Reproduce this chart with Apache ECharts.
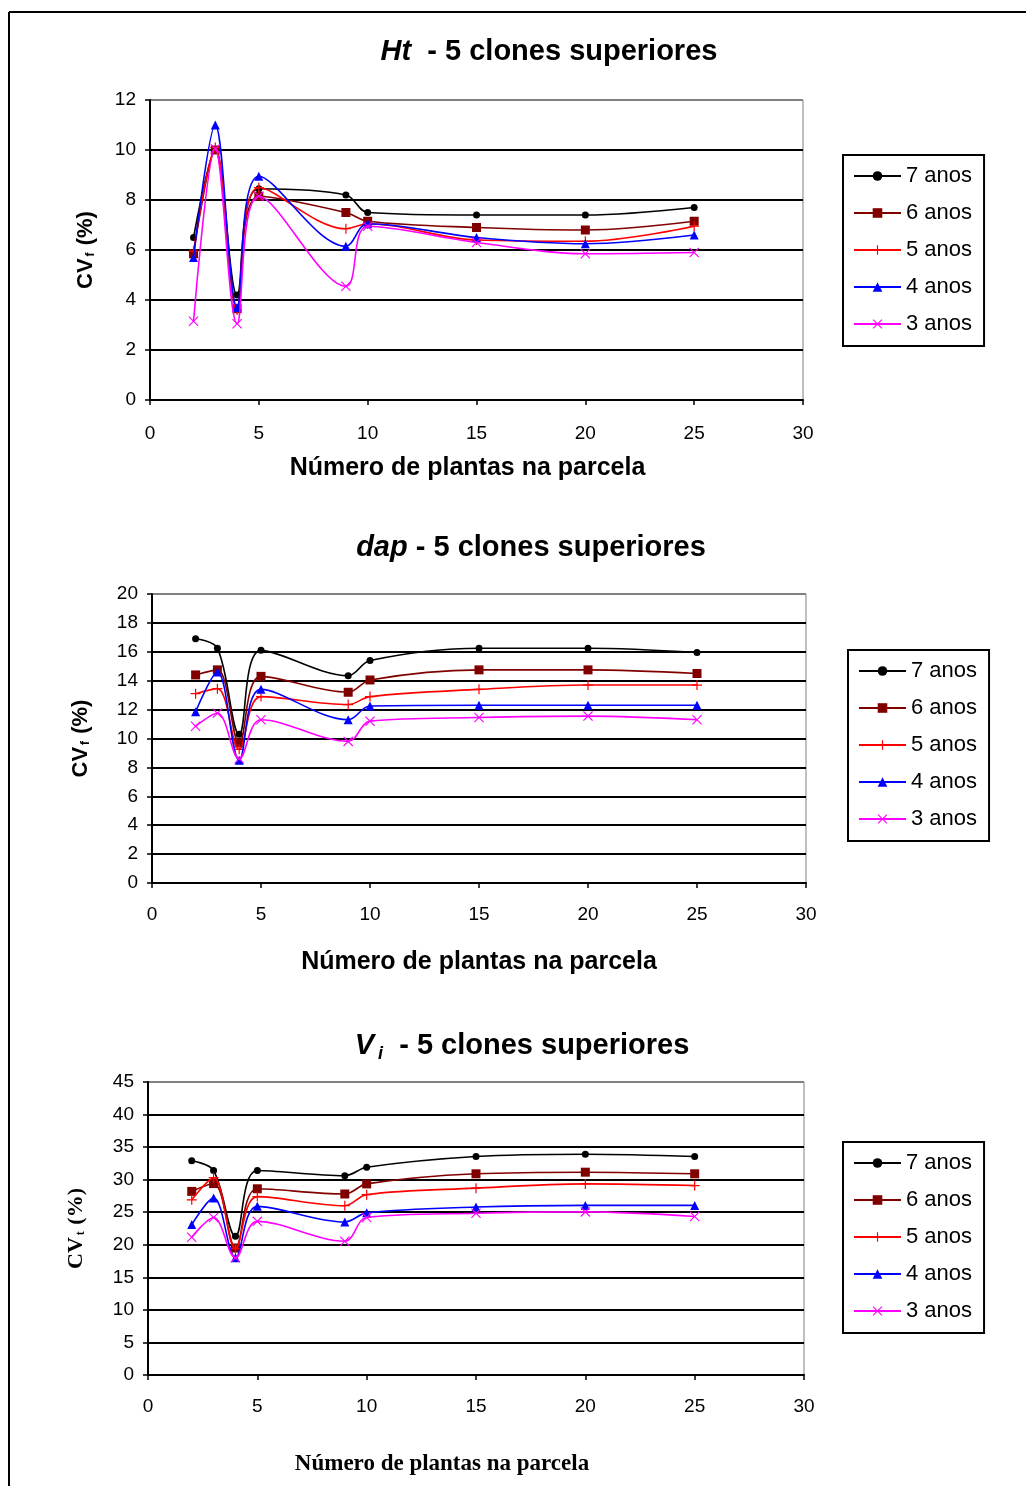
<!DOCTYPE html>
<html><head><meta charset="utf-8">
<script src="https://cdn.jsdelivr.net/npm/echarts@6/dist/echarts.min.js"></script>
<style>html,body{margin:0;padding:0;background:#fff}#c{width:1026px;height:1486px}</style>
</head><body><div id="c"></div>
<script>
// ---- data ----
const xs = [2, 3, 4, 5, 9, 10, 15, 20, 25];
const seriesNames = ['7 anos', '6 anos', '5 anos', '4 anos', '3 anos'];

const ht7 = [6.5, 10.0, 4.2, 8.45, 8.2, 7.5, 7.4, 7.4, 7.7];
const ht6 = [5.85, 10.0, 3.65, 8.15, 7.5, 7.15, 6.9, 6.8, 7.15];
const ht5 = [5.95, 10.1, 3.6, 8.5, 6.85, 7.05, 6.4, 6.35, 6.95];
const ht4 = [5.7, 11.0, 3.7, 8.95, 6.15, 7.05, 6.5, 6.25, 6.6];
const ht3 = [3.15, 10.05, 3.05, 8.15, 4.55, 6.95, 6.3, 5.85, 5.9];

const dap7 = [16.9, 16.25, 10.3, 16.1, 14.35, 15.4, 16.25, 16.25, 15.95];
const dap6 = [14.4, 14.75, 9.7, 14.3, 13.2, 14.05, 14.75, 14.75, 14.5];
const dap5 = [13.1, 13.45, 9.25, 12.9, 12.35, 12.9, 13.4, 13.7, 13.7];
const dap4 = [11.85, 14.6, 8.5, 13.4, 11.3, 12.25, 12.3, 12.3, 12.3];
const dap3 = [10.85, 11.75, 8.6, 11.3, 9.8, 11.2, 11.45, 11.55, 11.3];

const vi7 = [32.9, 31.4, 21.3, 31.4, 30.6, 31.9, 33.55, 33.9, 33.55];
const vi6 = [28.2, 29.4, 19.5, 28.6, 27.8, 29.35, 30.9, 31.15, 30.9];
const vi5 = [26.9, 30.3, 19.4, 27.4, 26.0, 27.7, 28.7, 29.35, 29.1];
const vi4 = [23.1, 27.2, 18.0, 25.9, 23.5, 24.9, 25.8, 26.05, 26.05];
const vi3 = [21.15, 24.2, 18.0, 23.6, 20.55, 24.2, 24.85, 25.05, 24.35];

const xTicks = [0, 5, 10, 15, 20, 25, 30];

// ---- style ----
const colors = ['#000000', '#800000', '#ff0000', '#0000ff', '#ff00ff'];
const plusPath = 'path://M0,4.4 L10,4.4 L10,5.6 L0,5.6 Z M4.4,0 L5.6,0 L5.6,10 L4.4,10 Z';
const xPath = 'path://M0.8,0 L5,4.2 L9.2,0 L10,0.8 L5.8,5 L10,9.2 L9.2,10 L5,5.8 L0.8,10 L0,9.2 L4.2,5 L0,0.8 Z';
const symbols = ['circle', 'rect', plusPath, 'triangle', xPath];
const symSizes = [7, 9, 10, 9, 10];
const sans = 'Liberation Sans, Arial, sans-serif';
const serif = 'Liberation Serif, Times New Roman, serif';

const datasets = [
  [ht7, ht6, ht5, ht4, ht3],
  [dap7, dap6, dap5, dap4, dap3],
  [vi7, vi6, vi5, vi4, vi3]
];

const grids = [
  {left: 150, top: 100, width: 653, height: 300},
  {left: 152, top: 594, width: 654, height: 289},
  {left: 148, top: 1082, width: 656, height: 293}
];
const yCfg = [
  {max: 12, interval: 2},
  {max: 20, interval: 2},
  {max: 45, interval: 5}
];

function splitColors(n) {
  const arr = [];
  for (let i = 0; i <= n; i++) arr.push(i === n ? '#808080' : '#000000');
  return arr;
}

const xAxes = [], yAxes = [], series = [], legends = [];
const xLabelMargin = [24, 22, 22];
const xNameCfg = [
  {gap: 56, font: sans, size: 25, pad: [0, 18, 0, 0]},
  {gap: 67, font: sans, size: 25, pad: [0, 0, 0, 0]},
  {gap: 78, font: serif, size: 23, pad: [0, 68, 0, 0]}
];
const yNameCfg = [
  {gap: 53, font: sans, sub: 'f', text: 'CV'},
  {gap: 60, font: sans, sub: 'f', text: 'CV'},
  {gap: 61, font: serif, sub: 't', text: 'CV'}
];
const legendPos = [
  {left: 843, top: 155},
  {left: 848, top: 650},
  {left: 843, top: 1142}
];

for (let g = 0; g < 3; g++) {
  xAxes.push({
    gridIndex: g, type: 'value', min: 0, max: 30, interval: 5,
    axisLine: {show: true, onZero: false, lineStyle: {color: '#000', width: 2}},
    axisTick: {show: true, length: 5, lineStyle: {color: '#000', width: 1.5}},
    splitLine: {show: false},
    axisLabel: {color: '#000', fontFamily: sans, fontSize: 19, margin: xLabelMargin[g],
      formatter: v => xTicks.includes(v) ? String(v) : ''},
    name: 'Número de plantas na parcela', nameLocation: 'middle', nameGap: xNameCfg[g].gap,
    nameTextStyle: {color: '#000', fontFamily: xNameCfg[g].font, fontWeight: 'bold',
      fontSize: xNameCfg[g].size, padding: xNameCfg[g].pad}
  });
  const nLines = yCfg[g].max / yCfg[g].interval;
  const yn = yNameCfg[g];
  yAxes.push({
    gridIndex: g, type: 'value', min: 0, max: yCfg[g].max, interval: yCfg[g].interval,
    axisLine: {show: true, lineStyle: {color: '#000', width: 2}},
    axisTick: {show: true, length: 5, lineStyle: {color: '#000', width: 1.5}},
    splitLine: {show: true, lineStyle: {color: splitColors(nLines), width: 2}},
    axisLabel: {color: '#000', fontFamily: sans, fontSize: 19, margin: 14},
    name: '{a|' + yn.text + '}{s|' + yn.sub + '}{a| (%)}',
    nameLocation: 'middle', nameGap: yn.gap, nameRotate: 90,
    nameTextStyle: {
      rich: {
        a: {fontFamily: yn.font, fontWeight: 'bold', fontSize: 22, color: '#000'},
        s: {fontFamily: yn.font, fontWeight: 'bold', fontSize: 12, color: '#000', verticalAlign: 'bottom', padding: [9, 1, 0, 2]}
      }
    }
  });
  const lp = legendPos[g];
  legends.push({
    orient: 'vertical', left: lp.left, top: lp.top,
    padding: [8, 12, 9, 10], itemGap: 11, itemWidth: 47, itemHeight: 12,
    borderColor: '#000', borderWidth: 2, backgroundColor: '#fff',
    textStyle: {color: '#000', fontFamily: sans, fontSize: 22, lineHeight: 26},
    selectedMode: false,
    data: seriesNames.map((n, i) => ({name: g + '_' + i})),
    formatter: name => seriesNames[+name.split('_')[1]]
  });
  for (let i = 0; i < 5; i++) {
    const vals = datasets[g][i];
    series.push({
      name: g + '_' + i, type: 'line', xAxisIndex: g, yAxisIndex: g,
      data: xs.map((x, k) => [x, vals[k]]),
      smooth: 0.35, symbol: symbols[i], symbolSize: symSizes[i], showSymbol: true,
      lineStyle: {color: colors[i], width: 1.6},
      itemStyle: {color: colors[i], borderWidth: 0},
      animation: false, z: 3 + i
    });
  }
}

const titleStyleRich = {
  i: {fontFamily: sans, fontStyle: 'italic', fontWeight: 'bold', fontSize: 29, color: '#000'},
  n: {fontFamily: sans, fontWeight: 'bold', fontSize: 29, color: '#000'},
  sub: {fontFamily: sans, fontStyle: 'italic', fontWeight: 'bold', fontSize: 18, color: '#000', verticalAlign: 'bottom', padding: [16, 0, 0, 4]}
};

const option = {
  backgroundColor: '#fff',
  animation: false,
  title: [
    {text: '{i|Ht}{n|  - 5 clones superiores}', left: 544, top: 32, textAlign: 'center', textStyle: {rich: titleStyleRich}},
    {text: '{i|dap}{n| - 5 clones superiores}', left: 526, top: 528, textAlign: 'center', textStyle: {rich: titleStyleRich}},
    {text: '{i|V}{sub|i}{n|  - 5 clones superiores}', left: 517, top: 1024, textAlign: 'center', textStyle: {rich: titleStyleRich}}
  ],
  grid: grids.map(g => Object.assign({show: true, borderColor: '#808080', borderWidth: 1, backgroundColor: '#fff'}, g)),
  xAxis: xAxes,
  yAxis: yAxes,
  legend: legends,
  series: series,
  graphic: [
    {type: 'line', shape: {x1: 9, y1: 12, x2: 1026, y2: 12}, style: {stroke: '#000', lineWidth: 2}},
    {type: 'line', shape: {x1: 9, y1: 12, x2: 9, y2: 1486}, style: {stroke: '#000', lineWidth: 2}}
  ]
};

const chart = echarts.init(document.getElementById('c'), null, {renderer: 'canvas'});
chart.setOption(option);
</script>
</body></html>
